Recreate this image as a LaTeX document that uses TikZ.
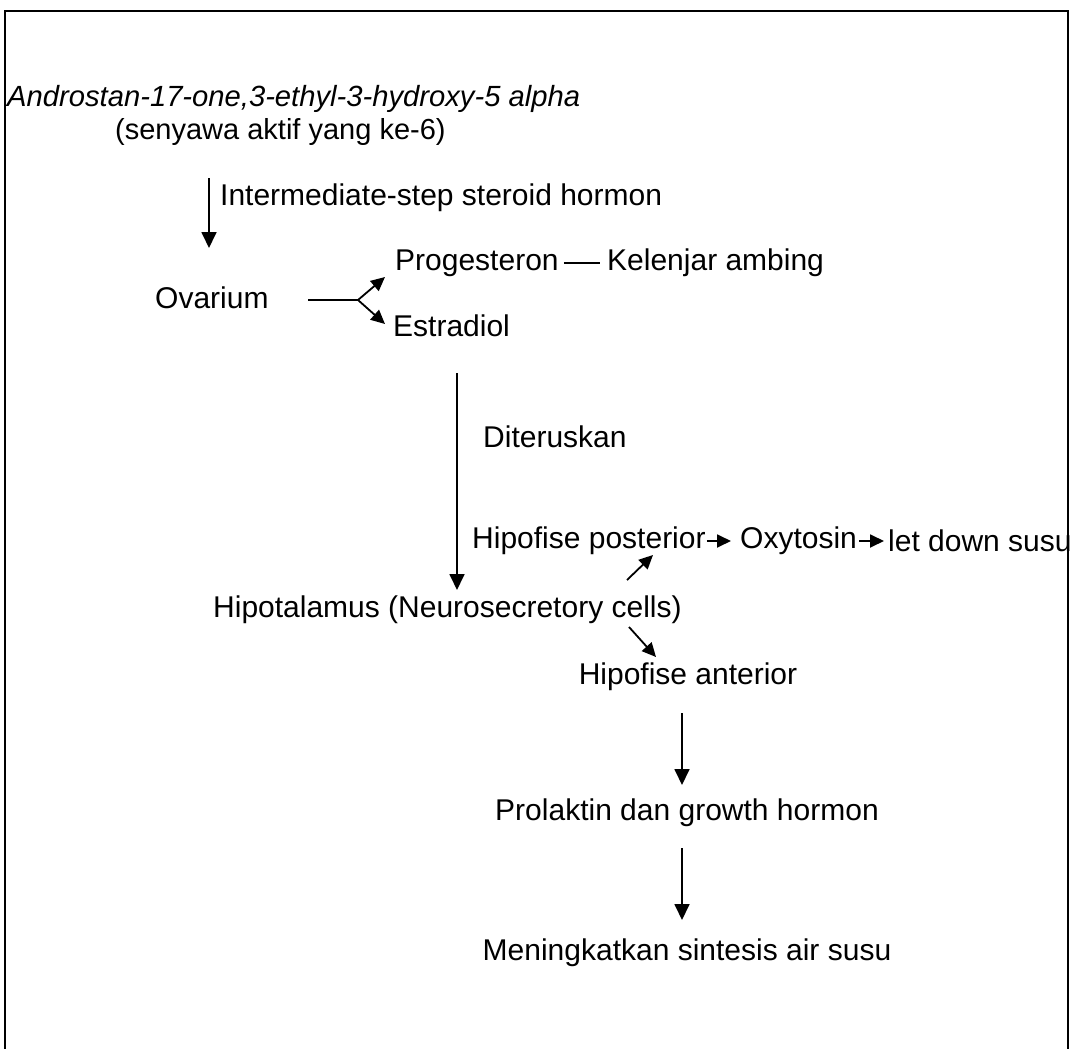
\documentclass[tikz,border=0pt]{standalone}
\usepackage{fontspec}
\setmainfont{Liberation Sans}
\usetikzlibrary{arrows.meta}
\begin{document}
\begin{tikzpicture}[x=1pt,y=-1pt,
  lbl/.style={font=\fontsize{30}{36}\selectfont, inner sep=0pt, anchor=west},
  clbl/.style={font=\fontsize{30}{36}\selectfont, inner sep=0pt, anchor=center},
  arr/.style={line width=1.8pt, -{Triangle[length=16pt,width=15pt]}},
  sarr/.style={line width=1.8pt, -{Triangle[length=14pt,width=13pt]}},
  ln/.style={line width=1.8pt},
  frame/.style={line width=2pt}]
\useasboundingbox (0,0) rectangle (1072,1049);
\draw[frame] (5,1049) -- (5,11) -- (1068,11) -- (1068,1049);

% top texts
\node[lbl, font=\fontsize{29.2}{35}\selectfont\itshape] (andro) at (7,99) {Androstan-17-one,3-ethyl-3-hydroxy-5 alpha};
\node[lbl, font=\fontsize{29}{35}\selectfont] (seny) at (115,132) {(senyawa aktif yang ke-6)};
\coordinate (a1s) at (209,178);
\coordinate (a1e) at (209,248);
\draw[arr] (a1s) -- (a1e);
\node[lbl] (inter) at (220,198) {Intermediate-step steroid hormon};

% ovarium branch
\node[lbl] (ovar) at (155,298) {Ovarium};
\node[lbl] (prog) at (395,263) {Progesteron};
\node[lbl] (kel) at (607,263) {Kelenjar ambing};
\node[lbl] (estr) at (393,326) {Estradiol};
\coordinate (br0) at (308,300);
\coordinate (br1) at (358,300);
\coordinate (brU) at (385,277);
\coordinate (brD) at (385,324);
\draw[ln] (br0) -- (br1);
\draw[sarr] (br1) -- (brU);
\draw[sarr] (br1) -- (brD);
\draw[ln] ([xshift=5pt]prog.east) -- ([xshift=-7pt]kel.west);

% diteruskan
\coordinate (a2s) at (457,373);
\coordinate (a2e) at (457,590);
\draw[arr] (a2s) -- (a2e);
\node[lbl] (dit) at (483,437) {Diteruskan};

% hipofise posterior line
\node[lbl] (hpost) at (472,541) {Hipofise posterior};
\node[lbl] (oxy) at (740,541) {Oxytosin};
\node[lbl] (letd) at (888,541) {let down susu};
\draw[sarr] ([xshift=1pt]hpost.east) -- ([xshift=-9pt]oxy.west);
\draw[sarr] ([xshift=2pt]oxy.east) -- ([xshift=-4pt]letd.west);

% hipotalamus
\node[lbl] (hipo) at (213,610) {Hipotalamus (Neurosecretory cells)};
\coordinate (dUs) at (627,580);
\coordinate (dUe) at (653,555);
\draw[sarr] (dUs) -- (dUe);
\coordinate (dDs) at (629,627);
\coordinate (dDe) at (656,657);
\draw[sarr] (dDs) -- (dDe);

% lower chain
\node[clbl] (hant) at (688,677) {Hipofise anterior};
\coordinate (a3s) at (682,713);
\coordinate (a3e) at (682,785);
\draw[arr] (a3s) -- (a3e);
\node[clbl] (prol) at (687,813) {Prolaktin dan growth hormon};
\coordinate (a4s) at (682,848);
\coordinate (a4e) at (682,920);
\draw[arr] (a4s) -- (a4e);
\node[clbl] (men) at (687,953) {Meningkatkan sintesis air susu};
\end{tikzpicture}
\end{document}
